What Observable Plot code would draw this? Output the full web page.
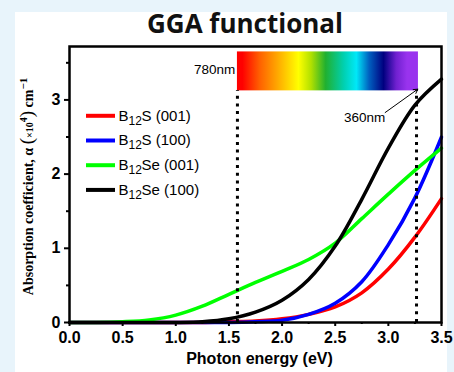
<!DOCTYPE html>
<html><head><meta charset="utf-8">
<script src="https://cdn.jsdelivr.net/npm/d3@7"></script>
<script src="https://cdn.jsdelivr.net/npm/@observablehq/plot@0.6"></script>
<style>
html,body{margin:0;padding:0;background:#e8f4fb;}
#wrap{position:relative;width:454px;height:372px;overflow:hidden;background:#e8f4fb;}
#panel{position:absolute;left:15px;top:12px;width:432px;height:360px;background:#fff;}
#title{position:absolute;left:245px;top:10px;transform:translateX(-50%);white-space:nowrap;font-family:"Open Sans",sans-serif;font-weight:700;font-size:26px;line-height:26px;color:#111;}
#chart{position:absolute;left:0;top:0;}
</style></head>
<body>
<div id="wrap"><div id="panel"></div><div id="chart"></div><div id="title">GGA functional</div></div>
<script>
// Data
const energy   = [0, 0.25, 0.5, 0.75, 1.0, 1.25, 1.5, 1.75, 2.0, 2.25, 2.5, 2.75, 3.0, 3.25, 3.5];
const b12s001  = [0, 0, 0, 0, 0, 0, 0.01, 0.02, 0.05, 0.11, 0.21, 0.4, 0.72, 1.15, 1.67];
const b12s100  = [0, 0, 0, 0, 0, 0, 0.0, 0.01, 0.03, 0.11, 0.26, 0.55, 1.05, 1.68, 2.5];
const b12se001 = [0, 0, 0.01, 0.035, 0.1, 0.22, 0.38, 0.54, 0.69, 0.85, 1.07, 1.4, 1.73, 2.05, 2.35];
const b12se100 = [0, 0, 0, 0, 0, 0.01, 0.05, 0.14, 0.3, 0.58, 1.03, 1.66, 2.35, 2.93, 3.28];
const seriesNames = ["B12S (001)", "B12S (100)", "B12Se (001)", "B12Se (100)"];
const seriesMain = ["S (001)", "S (100)", "Se (001)", "Se (100)"];
const seriesColors = ["#ff0000", "#0000ff", "#00ff00", "#000000"];
const xTicks = [0, 0.5, 1.0, 1.5, 2.0, 2.5, 3.0, 3.5];
const xMinor = [0.25, 0.75, 1.25, 1.75, 2.25, 2.75, 3.25];
const yTicks = [0, 1, 2, 3];
const yMinor = [0.5, 1.5, 2.5, 3.5];
const wavelengthEdges = [1.58, 3.265]; // 780 nm and 360 nm in eV
const spectrumLabels = ["780nm", "360nm"];
const yLabel = "Absorption coefficient, α (×10⁴) cm⁻¹";

const allSeries = [b12s001, b12s100, b12se001, b12se100];
const table = [];
allSeries.forEach((vals, i) => vals.forEach((v, j) => table.push({series: seriesNames[i], energy: energy[j], value: v})));
const legend = seriesNames.map((s, i) => ({series: s, main: seriesMain[i], y: 2.786 - i * 0.333}));

const sans = "'Liberation Sans', Arial, sans-serif";
const serif = "'Liberation Serif', 'Times New Roman', serif";

const svg = Plot.plot({
  width: 454, height: 372,
  marginLeft: 69, marginRight: 13, marginTop: 46, marginBottom: 50,
  style: {background: "transparent", fontFamily: sans, color: "#000", overflow: "visible"},
  x: {domain: [0, 3.5]},
  y: {domain: [0, 3.72]},
  color: {domain: seriesNames, range: seriesColors},
  marks: [
    Plot.rect([0], {x1: 1.58, x2: 3.283, y1: 3.122, y2: 3.647, fill: "url(#spectrum)"}),
    Plot.line(table, {x: "energy", y: "value", z: "series", stroke: "series", strokeWidth: 3.5, curve: "catmull-rom"}),
    Plot.ruleX(wavelengthEdges, {y1: 0, y2: 3.122, stroke: "#000", strokeWidth: 3, strokeDasharray: "3,4.7"}),
    Plot.arrow([0], {x1: 2.97, y1: 2.83, x2: 3.277, y2: 3.145, stroke: "#000", strokeWidth: 1, headLength: 7, bend: 0}),
    Plot.text([spectrumLabels[0]], {x: 1.56, y: 3.41, textAnchor: "end", fontSize: 13.5, fontFamily: sans}),
    Plot.text([spectrumLabels[1]], {x: 2.97, y: 2.763, textAnchor: "end", fontSize: 13.5, fontFamily: sans}),
    // legend
    Plot.ruleY(legend, {x1: 0.16, x2: 0.433, y: "y", stroke: "series", strokeWidth: 4}),
    Plot.text(legend, {x: 0.462, y: "y", text: () => "B", textAnchor: "start", fontSize: 15, fontFamily: sans}),
    Plot.text(legend, {x: 0.462, y: "y", text: () => "12", dx: 10, dy: 5, textAnchor: "start", fontSize: 12, fontFamily: sans}),
    Plot.text(legend, {x: 0.462, y: "y", text: "main", dx: 23, textAnchor: "start", fontSize: 15, fontFamily: sans}),
    // axes
    Plot.axisX(xTicks, {tickSize: 4, tickPadding: 5.5, tickFormat: d3.format(".1f"), fontSize: 16, fontWeight: "bold", fontFamily: sans, strokeWidth: 2, label: null}),
    Plot.axisX(xMinor, {tickSize: 2, tickFormat: () => "", strokeWidth: 2, label: null}),
    Plot.axisY(yTicks, {tickSize: 5, tickPadding: 4, tickFormat: d3.format("d"), fontSize: 16, fontWeight: "bold", fontFamily: sans, strokeWidth: 2, label: null}),
    Plot.axisY(yMinor, {tickSize: 3, tickFormat: () => "", strokeWidth: 2, label: null}),
    Plot.frame({stroke: "#000", strokeWidth: 2.5}),
    Plot.text(["Photon energy (eV)"], {frameAnchor: "bottom", dy: 41, dx: 4, fontSize: 16, fontWeight: "bold", fontFamily: sans}),
    Plot.text([yLabel], {frameAnchor: "left", dx: -41, dy: 2, rotate: -90, textAnchor: "middle", fontSize: 14, fontWeight: "bold", fontFamily: serif})
  ]
});

// rich formatting of the y-axis label
d3.select(svg).selectAll("text").filter(function() { return this.textContent === yLabel; }).each(function() {
  const t = d3.select(this).text("");
  t.append("tspan").text("Absorption coefficient, α ");
  t.append("tspan").attr("font-size", 19).attr("font-weight", "normal").text("(");
  t.append("tspan").attr("font-size", 10).text("×10");
  t.append("tspan").attr("font-size", 10).attr("dy", -6).text("4");
  t.append("tspan").attr("font-size", 19).attr("font-weight", "normal").attr("dy", 6).text(")");
  t.append("tspan").text(" cm");
  t.append("tspan").attr("font-size", 11).attr("dy", -6).text("−1");
});

const stops = [
  [0, "#ff0000"], [0.03, "#ff0000"], [0.125, "#ff6000"], [0.22, "#ffa500"], [0.34, "#ffff00"],
  [0.41, "#b0e000"], [0.49, "#20b030"], [0.59, "#00d0b0"], [0.66, "#00e8f8"], [0.73, "#0060c0"],
  [0.81, "#000080"], [0.88, "#7020d0"], [0.94, "#9933ee"], [1, "#9933ee"]
];
const defs = d3.select(svg).insert("defs", ":first-child");
const grad = defs.append("linearGradient").attr("id", "spectrum").attr("x1", "0").attr("x2", "1").attr("y1", "0").attr("y2", "0");
stops.forEach(([o, c]) => grad.append("stop").attr("offset", o).attr("stop-color", c));

document.getElementById("chart").appendChild(svg);
</script>
</body></html>
